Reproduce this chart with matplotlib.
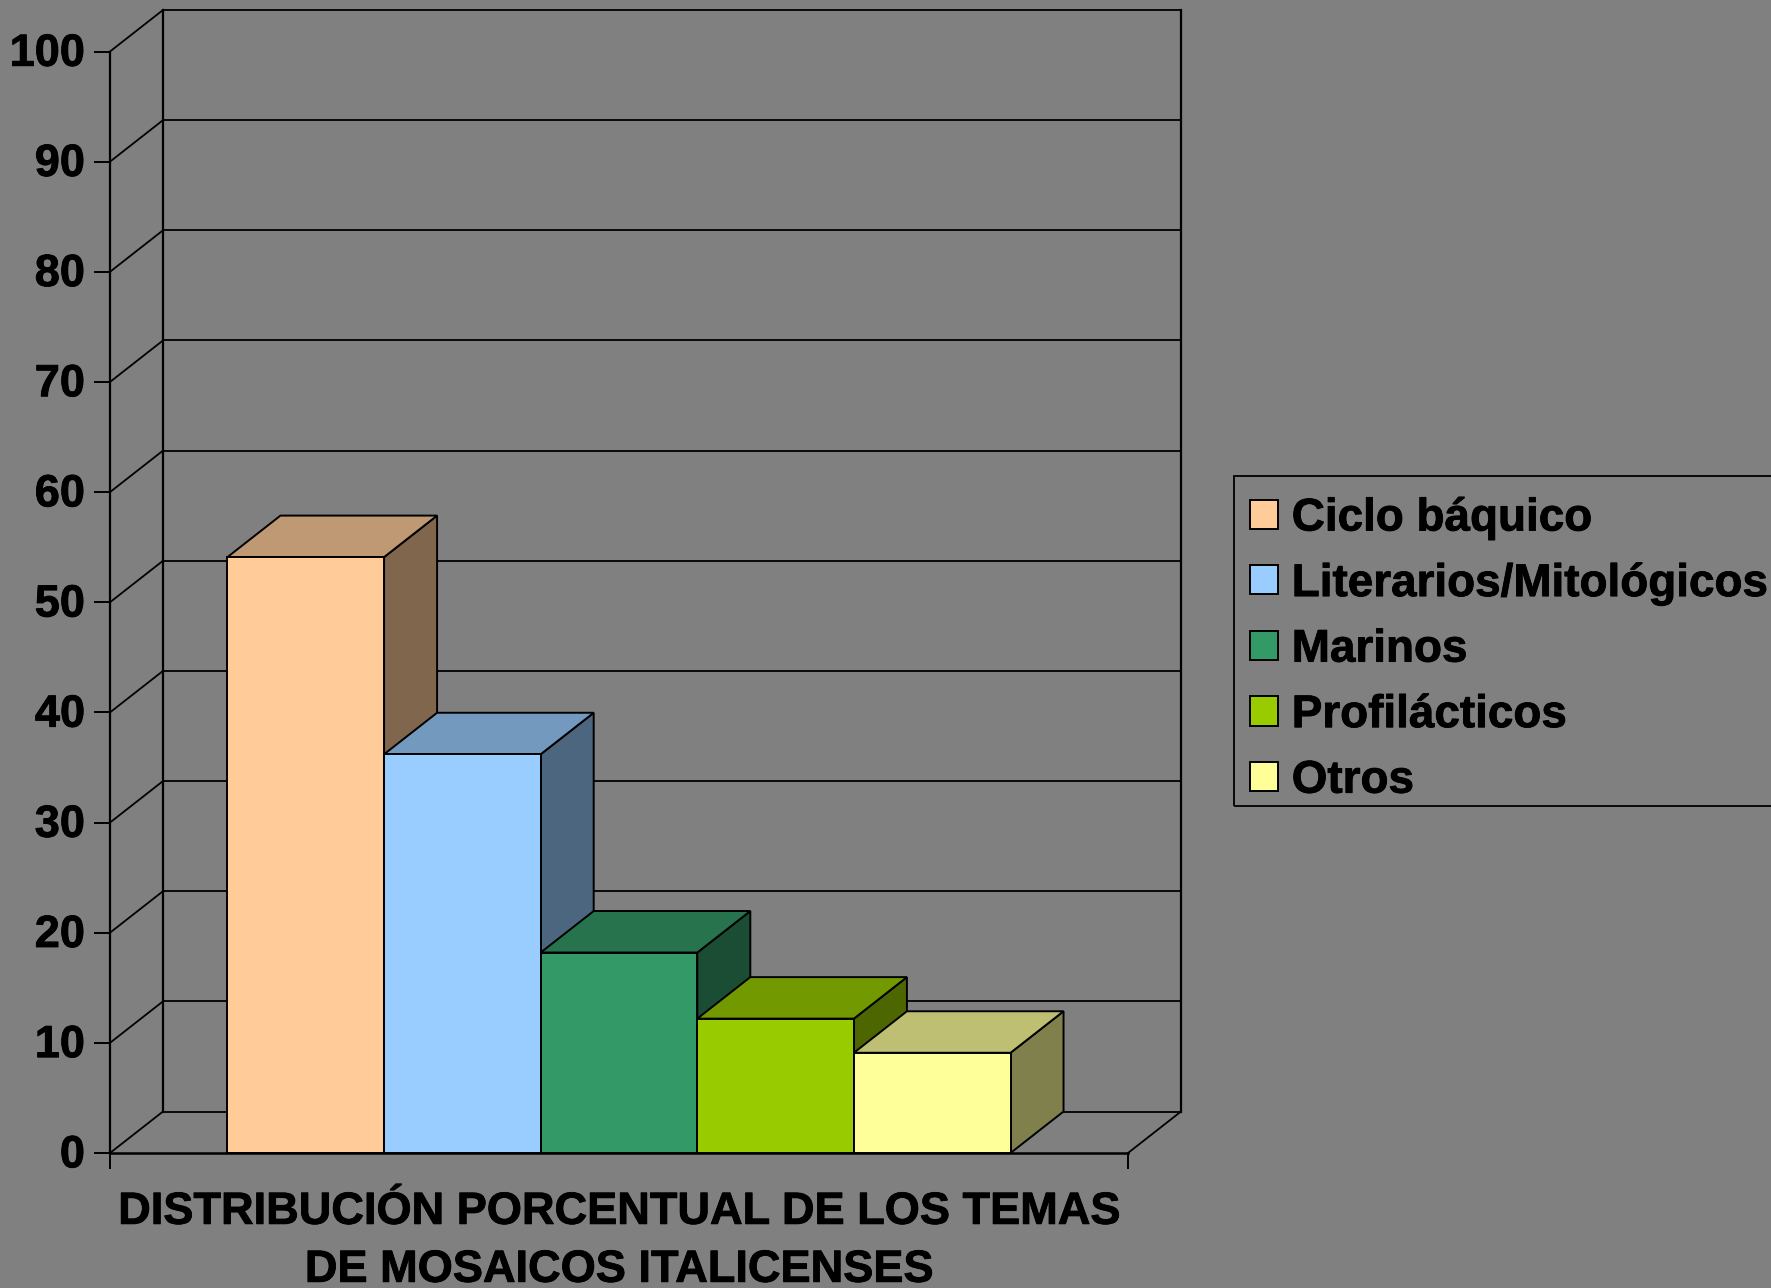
# plot.py
import matplotlib
matplotlib.use("Agg")
import matplotlib.pyplot as plt
import matplotlib.patheffects as pe
from matplotlib.colors import to_rgb
from matplotlib.patches import Patch, Polygon, Rectangle
from matplotlib.transforms import ScaledTranslation

plt.rcParams["font.family"] = ["Liberation Sans", "DejaVu Sans"]
plt.rcParams["font.weight"] = "bold"

# datos
series = ["Ciclo báquico", "Literarios/Mitológicos", "Marinos", "Profilácticos", "Otros"]
values = [54.1, 36.2, 18.2, 12.2, 9.1]
colors = ["#FFCC99", "#99CCFF", "#339966", "#99CC00", "#FFFF99"]
yticks = [0, 10, 20, 30, 40, 50, 60, 70, 80, 90, 100]
xlabel = "DISTRIBUCIÓN PORCENTUAL DE LOS TEMAS\nDE MOSAICOS ITALICENSES"

BG = "#808080"
W, H = 1771, 1288
# plano frontal en pixeles
LEFT, RIGHT, BOTTOM, TOP = 110, 1128, 1153, 51.5
DEPTH_PX_X, DEPTH_PX_Y = 53, 41.5
GAP = 0.75  # hueco a cada lado, en anchos de barra
XMAX = len(values) + 2 * GAP
YMAX = yticks[-1]

ux = (RIGHT - LEFT) / XMAX
uy = (BOTTOM - TOP) / YMAX
dx = DEPTH_PX_X / ux
dy = DEPTH_PX_Y / uy


def shade(color, f):
    return tuple(c * f for c in to_rgb(color))


def heavy(text):
    # el original tiene la negrita algo mas gruesa
    text.set_path_effects([pe.withStroke(linewidth=0.6, foreground="black")])


fig = plt.figure(figsize=(W / 100, H / 100), dpi=100, facecolor=BG)
ax = fig.add_axes([
    LEFT / W,
    1 - BOTTOM / H,
    (RIGHT + DEPTH_PX_X - LEFT) / W,
    (BOTTOM - TOP + DEPTH_PX_Y) / H,
])
ax.set_facecolor("none")
ax.set_xlim(0, XMAX + dx)
ax.set_ylim(0, YMAX + dy)

for s in ["top", "right"]:
    ax.spines[s].set_visible(False)
ax.spines["left"].set_bounds(0, YMAX)
ax.spines["bottom"].set_bounds(0, XMAX)
ax.spines["left"].set_linewidth(1.6)
ax.spines["bottom"].set_linewidth(1.8)

ax.set_yticks(yticks)
ax.set_xticks([0, XMAX])
ax.set_xticklabels(["", ""])
ax.tick_params(axis="y", length=11.5, width=1.4, pad=6.5, labelsize=32.5)
ax.tick_params(axis="x", length=11.5, width=1.4)
for t in ax.get_yticklabels():
    t.set_verticalalignment("center")
    t.set_transform(t.get_transform() + ScaledTranslation(0, -2.8 / 100, fig.dpi_scale_trans))
    heavy(t)
ax.set_xlabel(xlabel, fontsize=32.5, fontweight="bold", linespacing=1.53)
ax.xaxis.set_label_coords(0.5 * XMAX / (XMAX + dx), -0.034, transform=ax.transAxes)
ax.xaxis.label.set_verticalalignment("top")
heavy(ax.xaxis.label)

# pared del fondo y suelo
line = dict(color="black", lw=1.3, zorder=1, clip_on=False)
for v in yticks:
    ax.plot([0, dx], [v, v + dy], **line)
    ax.plot([dx, XMAX + dx], [v + dy, v + dy], **line)
ax.plot([dx, dx], [dy, YMAX + dy], color="black", lw=1.6, zorder=1, clip_on=False)
ax.plot([XMAX + dx, XMAX + dx], [dy, YMAX + dy], color="black", lw=1.6, zorder=1, clip_on=False)
ax.plot([XMAX, XMAX + dx], [0, dy], **line)

# barras 3D, de izquierda a derecha
edge = dict(edgecolor="black", linewidth=1.4, joinstyle="miter", clip_on=False)
for i, (v, c) in enumerate(zip(values, colors)):
    x0 = GAP + i
    x1 = x0 + 1
    z = 2 + i
    ax.add_patch(Polygon([(x1, 0), (x1 + dx, dy), (x1 + dx, v + dy), (x1, v)],
                         facecolor=shade(c, 0.5), zorder=z, **edge))
    ax.add_patch(Polygon([(x0, v), (x0 + dx, v + dy), (x1 + dx, v + dy), (x1, v)],
                         facecolor=shade(c, 0.75), zorder=z, **edge))
    ax.bar(x0, v, width=1, align="edge", color=c, edgecolor="black", linewidth=1.4, zorder=z)

# el marco de la leyenda se sale por la derecha
fig.add_artist(Rectangle((1234 / W, 1 - 806 / H), 700 / W, 330 / H, transform=fig.transFigure,
                         fill=False, edgecolor="black", linewidth=1.3))
handles = [Patch(facecolor=c, edgecolor="black", linewidth=1.4) for c in colors]
leg = fig.legend(
    handles, series,
    loc="upper left",
    bbox_to_anchor=(1234 / W, 1 - 480.5 / H),
    borderaxespad=0,
    frameon=False,
    handlelength=0.6,
    handleheight=0.6,
    handletextpad=0.31,
    borderpad=0.35,
    labelspacing=0.47,
    prop={"weight": "bold", "size": 33},
)
for t in leg.get_texts():
    heavy(t)

fig.savefig("out.png", dpi=100, facecolor=BG)
